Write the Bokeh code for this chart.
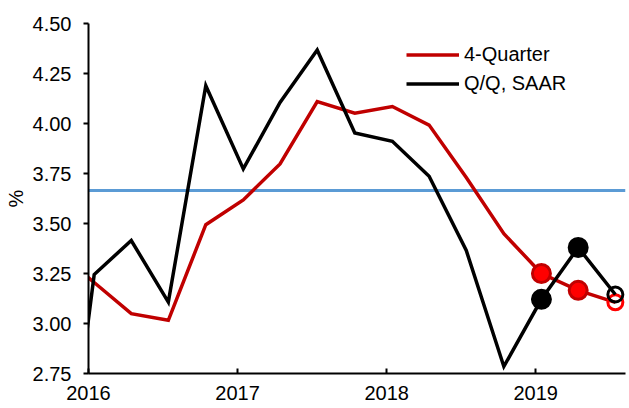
import pandas as pd
from bokeh.plotting import figure
from bokeh.models import (Range1d, FixedTicker, Span, Legend, LegendItem,
                          NumeralTickFormatter, ColumnDataSource)
from bokeh.embed import file_html
from bokeh.resources import INLINE

# ---- data ----
dates = ["2015-10-15", "2016-01-15", "2016-04-15", "2016-07-15", "2016-10-15",
         "2017-01-15", "2017-04-15", "2017-07-15", "2017-10-15",
         "2018-01-15", "2018-04-15", "2018-07-15", "2018-10-15",
         "2019-01-15", "2019-04-15", "2019-07-15"]
four_quarter = [3.36, 3.205, 3.049, 3.016, 3.494, 3.618, 3.798, 4.11, 4.052,
                4.085, 3.992, 3.73, 3.449, 3.25, 3.166, 3.106]
qq_saar = [1.78, 3.245, 3.415, 3.107, 4.189, 3.773, 4.105, 4.367, 3.953,
           3.911, 3.736, 3.365, 2.785, 3.121, 3.38, 3.145]
filled_dates = ["2019-01-15", "2019-04-15"]
hollow_dates = ["2019-07-15"]
reference_level = 3.665
year_ticks = [2016, 2017, 2018, 2019]
y_ticks = [2.75, 3.00, 3.25, 3.50, 3.75, 4.00, 4.25, 4.50]
series_names = ["4-Quarter", "Q/Q, SAAR"]


def frac_year(ds):
    d = pd.to_datetime(pd.Series(ds))
    days = d.dt.is_leap_year.map({True: 366.0, False: 365.0})
    return list(d.dt.year + (d.dt.dayofyear - 1) / days)


x = frac_year(dates)
src = ColumnDataSource(dict(x=x, fq=four_quarter, qq=qq_saar))
sel_f = [i for i, d in enumerate(dates) if d in filled_dates]
sel_h = [i for i, d in enumerate(dates) if d in hollow_dates]
filled_src = ColumnDataSource(dict(x=[x[i] for i in sel_f],
                                   fq=[four_quarter[i] for i in sel_f],
                                   qq=[qq_saar[i] for i in sel_f]))
hollow_src = ColumnDataSource(dict(x=[x[i] for i in sel_h],
                                   fq=[four_quarter[i] for i in sel_h],
                                   qq=[qq_saar[i] for i in sel_h]))

FONT = "Liberation Sans"
FS = "20px"
RED = "#C00000"
BRIGHT_RED = "#FF0000"

W, H = 629, 408
LEFT, RIGHT, TOP, BOTTOM = 88, 4, 23, 35
PX_PER_YEAR = 149.07
frame_w = W - LEFT - RIGHT

p = figure(width=W, height=H, output_backend="svg", toolbar_location=None,
           x_range=Range1d(2016.0, 2016.0 + frame_w / PX_PER_YEAR),
           y_range=Range1d(2.75, 4.50),
           min_border_left=LEFT, min_border_right=RIGHT,
           min_border_top=TOP, min_border_bottom=BOTTOM)
p.outline_line_color = None
p.xgrid.grid_line_color = None
p.ygrid.grid_line_color = None
p.background_fill_color = "white"
p.border_fill_color = "white"

# horizontal reference line
p.add_layout(Span(location=reference_level, dimension="width",
                  line_color="#5B9BD5", line_width=3, level="underlay"))

red_line = p.line("x", "fq", source=src, line_color=RED, line_width=3.5,
                  line_join="miter")
p.scatter("x", "fq", source=filled_src, marker="circle", size=18,
          fill_color=BRIGHT_RED, line_color=RED, line_width=3)
p.scatter("x", "fq", source=hollow_src, marker="circle", size=15,
          fill_color=None, line_color=BRIGHT_RED, line_width=3)

black_line = p.line("x", "qq", source=src, line_color="black", line_width=3.5,
                    line_join="miter")
p.scatter("x", "qq", source=filled_src, marker="circle", size=19,
          fill_color="black", line_color="black", line_width=2)
p.scatter("x", "qq", source=hollow_src, marker="circle", size=15,
          fill_color=None, line_color="black", line_width=3)

# axes
p.xaxis.ticker = FixedTicker(ticks=year_ticks)
p.xaxis.major_tick_in = 5
p.xaxis.major_tick_out = 0
p.xaxis.minor_tick_line_color = None
p.xaxis.major_label_standoff = 12

p.yaxis.ticker = FixedTicker(ticks=y_ticks)
p.yaxis.formatter = NumeralTickFormatter(format="0.00")
p.yaxis.major_tick_in = 0
p.yaxis.major_tick_out = 5
p.yaxis.minor_tick_line_color = None
p.yaxis.major_label_standoff = 12
p.yaxis.axis_label = "%"
p.yaxis.axis_label_standoff = 3
p.yaxis.axis_label_text_font = FONT
p.yaxis.axis_label_text_font_size = FS
p.yaxis.axis_label_text_font_style = "normal"
p.yaxis.axis_label_text_color = "black"

for ax in (p.xaxis, p.yaxis):
    ax.axis_line_color = "black"
    ax.axis_line_width = 2
    ax.major_tick_line_color = "black"
    ax.major_tick_line_width = 2
    ax.major_label_text_font = FONT
    ax.major_label_text_font_size = FS
    ax.major_label_text_color = "black"

legend = Legend(items=[LegendItem(label=series_names[0], renderers=[red_line]),
                       LegendItem(label=series_names[1], renderers=[black_line])],
                location=(318, 278), padding=0, margin=0, spacing=6,
                glyph_width=53, glyph_height=23, label_height=23,
                label_standoff=5, border_line_color=None,
                background_fill_alpha=0,
                label_text_font=FONT, label_text_font_size=FS,
                label_text_color="black")
p.add_layout(legend)

open("out.html", "w").write(file_html(p, INLINE))
